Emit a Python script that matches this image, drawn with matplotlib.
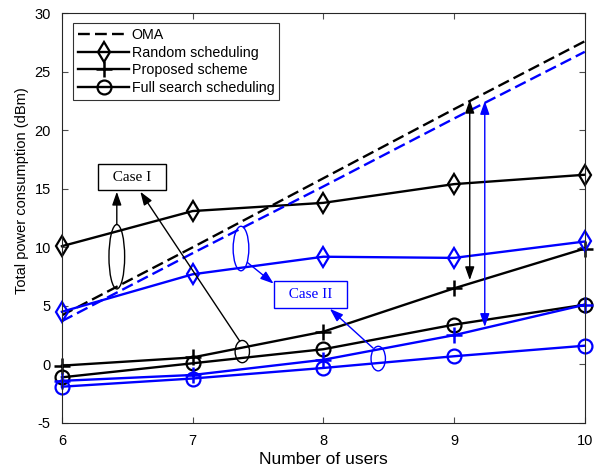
import numpy as np
import matplotlib
matplotlib.use("Agg")
import matplotlib.pyplot as plt
from matplotlib.patches import Ellipse

plt.rcParams['font.family'] = ['Liberation Sans', 'DejaVu Sans']
plt.rcParams['axes.unicode_minus'] = False

users = [6, 7, 8, 9, 10]
# case I (black)
oma_1 = [4.2, 10.0, 15.9, 21.8, 27.6]
random_1 = [10.1, 13.1, 13.8, 15.4, 16.2]
proposed_1 = [-0.1, 0.6, 2.8, 6.5, 9.9]
full_1 = [-1.1, 0.1, 1.3, 3.4, 5.1]
# case II (blue)
oma_2 = [3.7, 9.5, 15.2, 21.0, 26.7]
random_2 = [4.5, 7.7, 9.2, 9.1, 10.5]
proposed_2 = [-1.4, -0.9, 0.4, 2.5, 5.1]
full_2 = [-1.9, -1.2, -0.3, 0.7, 1.6]

fig = plt.figure(figsize=(6.01, 4.70), dpi=100)
ax = fig.add_axes([0.103, 0.1, 0.87, 0.872])

lw = 1.7
for c, oma, rnd, prop, full in [('k', oma_1, random_1, proposed_1, full_1),
                                ('b', oma_2, random_2, proposed_2, full_2)]:
    lab = c == 'k'
    ax.plot(users, oma, '--', color=c, lw=lw, dashes=(5, 2.2), label='OMA' if lab else None)
    ax.plot(users, rnd, '-d', color=c, lw=lw, label='Random scheduling' if lab else None,
            markerfacecolor='none', markeredgewidth=1.6, markersize=10, clip_on=False)
    ax.plot(users, prop, '-+', color=c, lw=lw, label='Proposed scheme' if lab else None,
            markeredgewidth=1.8, markersize=11, clip_on=False)
    ax.plot(users, full, '-o', color=c, lw=lw, label='Full search scheduling' if lab else None,
            markerfacecolor='none', markeredgewidth=1.6, markersize=10, clip_on=False)

ax.set_xlim(6, 10)
ax.set_ylim(-5, 30)
ax.set_xticks(users)
ax.set_yticks(np.arange(-5, 31, 5))
ax.tick_params(direction='in', top=True, right=True, labelsize=10.5, length=4, color='0.3')
ax.tick_params(axis='x', pad=8)
ax.tick_params(axis='y', pad=8)
for s in ax.spines.values():
    s.set_linewidth(0.8)
    s.set_color('0.15')
ax.set_xlabel('Number of users', fontsize=12.5, labelpad=3)
ax.set_ylabel('Total power consumption (dBm)', fontsize=10.5)
ax.yaxis.set_label_coords(-0.062, 0.568)

leg = ax.legend(loc='upper left', fontsize=10.3, fancybox=False, edgecolor='k',
                handlelength=3.6, borderpad=0.35, labelspacing=0.25, handletextpad=0.15,
                borderaxespad=0, bbox_to_anchor=(0.021, 0.976))
leg.get_frame().set_linewidth(0.8)

# annotations
serif = ['Liberation Serif', 'DejaVu Serif']
ax.text(6.535, 16.0, '  Case I  ', family=serif, fontsize=11, ha='center', va='center',
        bbox=dict(boxstyle='square,pad=0.45', fc='white', ec='k', lw=1))
ax.text(7.90, 5.95, '  Case II  ', family=serif, fontsize=11, color='b', ha='center', va='center',
        bbox=dict(boxstyle='square,pad=0.45', fc='white', ec='b', lw=1))

for (x, y, w, h, c) in [(6.42, 9.2, 0.12, 5.5, 'k'), (7.38, 1.1, 0.11, 1.9, 'k'),
                        (7.37, 9.9, 0.12, 3.8, 'b'), (8.42, 0.5, 0.11, 2.1, 'b')]:
    ax.add_patch(Ellipse((x, y), w, h, fill=False, ec=c, lw=1))

ap = dict(arrowstyle='-|>,head_length=0.8,head_width=0.28', lw=1, shrinkA=0, shrinkB=0)
ax.annotate('', xy=(6.42, 14.75), xytext=(6.42, 11.95), arrowprops=dict(ap, color='k'))
ax.annotate('', xy=(6.6, 14.75), xytext=(7.36, 2.0), arrowprops=dict(ap, color='k'))
ax.annotate('', xy=(7.62, 6.9), xytext=(7.42, 8.7), arrowprops=dict(ap, color='b'))
ax.annotate('', xy=(8.05, 4.75), xytext=(8.38, 1.4), arrowprops=dict(ap, color='b'))

dap = dict(arrowstyle='<|-|>,head_length=0.8,head_width=0.28', lw=1, shrinkA=0, shrinkB=0)
ax.annotate('', xy=(9.12, 22.6), xytext=(9.12, 7.2), arrowprops=dict(dap, color='k'))
ax.annotate('', xy=(9.235, 22.5), xytext=(9.235, 3.2), arrowprops=dict(dap, color='b'))

fig.savefig('out.png', dpi=100)
